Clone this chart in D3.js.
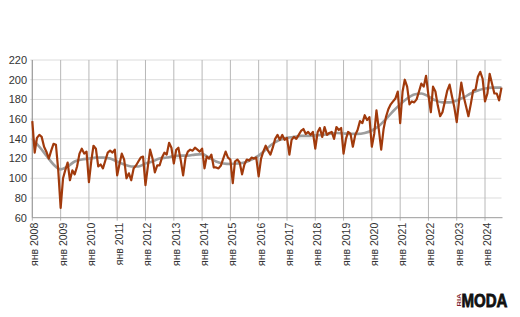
<!DOCTYPE html>
<html>
<head>
<meta charset="utf-8">
<script src="https://cdn.jsdelivr.net/npm/d3@7"></script>
<style>
  body { margin: 0; background: #fff; }
  svg { display: block; font-family: "Liberation Sans", Arial, sans-serif; }
</style>
</head>
<body>
<div id="chart"></div>
<script>
// monthly index, Jan 2008 .. Aug 2024
const startYear = 2008
const monthly = [
  158, 126, 141, 144, 142, 132, 127, 120, 128, 135, 134, 108, // 2008
  70, 100, 108, 116, 98, 108, 104, 112, 125, 130, 125, 127,   // 2009
  96, 118, 133, 130, 112, 114, 110, 118, 126, 128, 126, 129,  // 2010
  103, 115, 125, 119, 100, 105, 98, 110, 113, 117, 121, 122,  // 2011
  93, 112, 129, 120, 106, 113, 113, 121, 126, 124, 136, 131,  // 2012
  115, 129, 131, 118, 103, 121, 127, 129, 128, 131, 129, 127, // 2013
  130, 110, 122, 120, 124, 111, 111, 110, 113, 120, 127, 121, // 2014
  119, 95, 117, 119, 116, 104, 114, 119, 118, 121, 120, 121,  // 2015
  102, 120, 127, 133, 128, 124, 131, 140, 144, 139, 144, 139, // 2016
  141, 124, 139, 142, 140, 144, 148, 150, 145, 147, 144, 147, // 2017
  130, 147, 151, 142, 152, 144, 146, 147, 140, 152, 149, 151, // 2018
  125, 140, 147, 145, 132, 144, 149, 158, 156, 164, 159, 162, // 2019
  132, 145, 169, 149, 129, 150, 162, 170, 175, 178, 181, 188, // 2020
  156, 188, 200, 193, 175, 178, 177, 180, 188, 196, 193, 204, // 2021
  184, 167, 193, 188, 174, 163, 167, 178, 189, 195, 183, 172, // 2022
  157, 179, 197, 183, 173, 163, 175, 189, 190, 203, 208, 201, // 2023
  178, 186, 206, 196, 186, 186, 179, 192                      // 2024
]
// smoothed trend, read every 3 months (Jan, Apr, Jul, Oct)
const trend = [
  140, 132, 123, 114,
  109, 112, 117, 119,
  120, 121, 121, 120,
  117, 114, 112, 112,
  115, 117, 120, 121,
  122.5, 123, 123, 124,
  124.5, 121, 117, 115,
  114.5, 115, 116, 119,
  123, 129, 135, 139,
  141, 142, 143, 143,
  143.5, 144, 145, 146,
  145.5, 145, 145, 146,
  148.5, 153, 160, 168,
  175, 181, 185, 186,
  183, 179, 177, 177,
  179, 182, 186, 189,
  191, 192, 192
]
const yTicks = [60, 80, 100, 120, 140, 160, 180, 200, 220]
const yearTicks = d3.range(2008, 2025)
const tickPrefix = "янв"

const W = 520, H = 317
const plotLeft = 32.3, plotRight = 501.5, plotTop = 60, plotBottom = 217.7
const lineColor = "#a13a0c"
const trendColor = "#9d9d9d"

const svg = d3.select("#chart").append("svg")
  .attr("width", W).attr("height", H)

const dateOf = i => new Date(startYear, i, 1)
const lastDate = dateOf(monthly.length - 1)

const x = d3.scaleTime()
  .domain([dateOf(0), lastDate])
  .range([plotLeft, plotRight])
const y = d3.scaleLinear()
  .domain([60, 220])
  .range([plotBottom, plotTop])

// horizontal grid
svg.append("g").selectAll("line")
  .data(yTicks.slice(1))
  .join("line")
  .attr("x1", plotLeft - 2).attr("x2", plotRight)
  .attr("y1", d => y(d)).attr("y2", d => y(d))
  .attr("stroke", "#dcdcdc").attr("stroke-width", 1)

// vertical grid at each January
svg.append("g").selectAll("line")
  .data(yearTicks)
  .join("line")
  .attr("x1", d => x(new Date(d, 0, 1))).attr("x2", d => x(new Date(d, 0, 1)))
  .attr("y1", plotTop).attr("y2", plotBottom + 3)
  .attr("stroke", "#b8b8b8").attr("stroke-width", 1)

// axes lines
svg.append("line")
  .attr("x1", plotLeft).attr("x2", plotRight + 1)
  .attr("y1", plotBottom).attr("y2", plotBottom)
  .attr("stroke", "#9a9a9a")
svg.append("line")
  .attr("x1", plotLeft).attr("x2", plotLeft)
  .attr("y1", plotTop).attr("y2", plotBottom)
  .attr("stroke", "#9a9a9a")

// y labels
svg.append("g").selectAll("text")
  .data(yTicks)
  .join("text")
  .attr("x", 27).attr("y", d => y(d))
  .attr("dy", "0.35em")
  .attr("text-anchor", "end")
  .attr("font-size", 11)
  .attr("fill", "#333")
  .text(d => d)

// x labels, rotated
svg.append("g").selectAll("text")
  .data(yearTicks)
  .join("text")
  .attr("transform", d => `translate(${x(new Date(d, 0, 1)) + 6},${plotBottom + 5}) rotate(-90)`)
  .attr("text-anchor", "end")
  .attr("font-size", 10.5)
  .attr("fill", "#333")
  .text(d => `${tickPrefix} ${d}`)

// trend
const trendPts = trend.map((v, i) => ({ date: dateOf(i * 3), v }))
trendPts.push({ date: lastDate, v: trend[trend.length - 1] })
svg.append("path")
  .datum(trendPts)
  .attr("fill", "none")
  .attr("stroke", trendColor)
  .attr("stroke-width", 2.6)
  .attr("d", d3.line().x(d => x(d.date)).y(d => y(d.v)).curve(d3.curveMonotoneX))

// monthly line
svg.append("path")
  .datum(monthly.map((v, i) => ({ date: dateOf(i), v })))
  .attr("fill", "none")
  .attr("stroke", lineColor)
  .attr("stroke-width", 2.2)
  .attr("stroke-linejoin", "round")
  .attr("d", d3.line().x(d => x(d.date)).y(d => y(d.v)))

// logo
const logo = svg.append("g")
logo.append("text")
  .attr("transform", "translate(461,306.5) rotate(-90)")
  .attr("font-size", 5.5).attr("font-weight", "bold")
  .attr("fill", "#7d1c2c")
  .attr("textLength", 13).attr("lengthAdjust", "spacingAndGlyphs")
  .text("RIA")
logo.append("text")
  .attr("x", 461.5).attr("y", 306.5)
  .attr("font-size", 18).attr("font-weight", "bold")
  .attr("fill", "#111").attr("stroke", "#111").attr("stroke-width", 0.8)
  .attr("textLength", 46).attr("lengthAdjust", "spacingAndGlyphs")
  .text("MODA")
</script>
</body>
</html>
